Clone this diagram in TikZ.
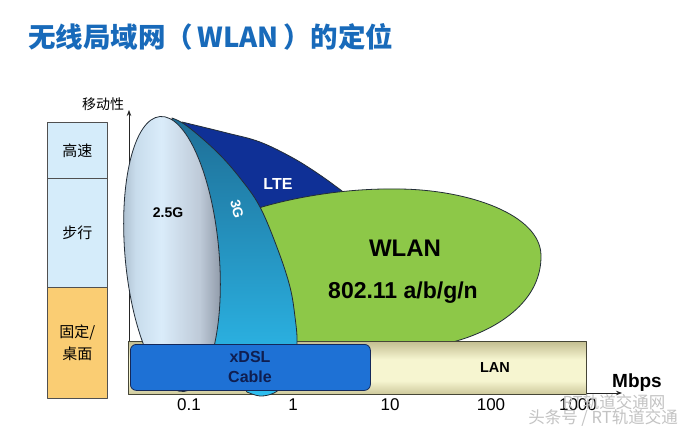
\documentclass[tikz,border=0pt]{standalone}
\usepackage{fontspec}
\setmainfont{Liberation Sans}
\newfontfamily\cjk{Noto Sans CJK SC}
\usetikzlibrary{arrows.meta,shapes.geometric}
\definecolor{titleblue}{RGB}{24,106,186}
\definecolor{lblue}{RGB}{213,236,250}
\definecolor{lorange}{RGB}{250,205,115}
\definecolor{boxline}{RGB}{80,80,80}
\definecolor{shapeline}{RGB}{35,45,55}
\definecolor{ltecol}{RGB}{15,48,150}
\definecolor{wlancol}{RGB}{141,200,72}
\definecolor{tgA}{RGB}{30,110,150}
\definecolor{tgB}{RGB}{45,190,240}
\definecolor{lanA}{RGB}{195,190,145}
\definecolor{lanB}{RGB}{246,245,208}
\definecolor{lanC}{RGB}{205,200,155}
\definecolor{barline}{RGB}{70,70,55}
\definecolor{dslblue}{RGB}{30,113,213}
\definecolor{dslline}{RGB}{20,40,90}
\definecolor{dsltext}{RGB}{15,30,80}
\definecolor{wmark}{RGB}{195,195,195}
\definecolor{sa}{RGB}{165,182,198}
\definecolor{sb}{RGB}{200,220,236}
\definecolor{sc}{RGB}{218,236,250}
\definecolor{sd}{RGB}{190,202,216}
\definecolor{se}{RGB}{135,145,160}
\pgfdeclarehorizontalshading{shtwofive}{100bp}{color(0bp)=(sa); color(25bp)=(sa); color(33bp)=(sb); color(45bp)=(sc); color(63bp)=(sd); color(75bp)=(se); color(100bp)=(se)}
\pgfdeclareverticalshading{shlan}{100bp}{color(0bp)=(lanC); color(25bp)=(lanC); color(38bp)=(lanB); color(58bp)=(lanB); color(75bp)=(lanA); color(100bp)=(lanA)}
\tikzset{
  mbox/.style={draw=boxline, line width=0.6, minimum width=60, minimum height=#1, anchor=north west, inner sep=0, font=\cjk\fontsize{15}{22}\selectfont, align=center},
  axisline/.style={draw=black!85, line width=0.8, -{Stealth[length=6,width=4.5]}},
  tick/.style={font=\fontsize{17}{19}\selectfont, inner sep=0},
  bold/.style={font=\bfseries\fontsize{#1}{#1}\selectfont, inner sep=0},
  shapeedge/.style={draw=shapeline, line width=0.8},
}
\begin{document}
\begin{tikzpicture}[x=1pt,y=-1pt,line join=round]
\useasboundingbox (0,0) rectangle (689,434);
\fill[white] (0,0) rectangle (689,434);
% title
\node[anchor=west, text=titleblue, inner sep=0, font=\cjk\bfseries\fontsize{27.5}{30}\selectfont] (title) at (28,37) {无线局域网（\,WLAN\,）的定位};
% left column
\node[mbox=56, fill=lblue] (fast) at (47,122) {高速};
\node[mbox=109, fill=lblue] (walk) at (47,178) {步行};
\node[mbox=111, fill=lorange] (fixed) at (47,287) {固定/\\桌面};
\node[font=\cjk\fontsize{14}{16}\selectfont, inner sep=0] (mob) at (103,104) {移动性};
% axes
\coordinate (o) at (129,393);
\coordinate (ytop) at (129,110);
\coordinate (xend) at (622,393);
\draw[axisline] (o) -- (ytop);
\draw[axisline] (o) -- (xend);
% LTE
\path[shapeedge, fill=ltecol] plot[smooth, tension=0.6] coordinates {(182,122) (227,133) (260,142) (293,158) (320,175) (342,191)} -- (300,232) -- (205,232) -- cycle;
% WLAN
\path[shapeedge, fill=wlancol] (250,211) -- (262,207) .. controls (300,196) and (350,188) .. (400,189) .. controls (470,190) and (540,215) .. (541,255) .. controls (542,305) and (490,335) .. (440,345) -- (300,360) -- (250,300) -- cycle;
% LAN bar
\node[draw=barline, line width=0.8, anchor=north west, minimum width=458, minimum height=53, inner sep=0, shading=shlan] (lan) at (128,341) {};
% 3G
\path[shapeedge, top color=tgA, bottom color=tgB] plot[smooth, tension=0.6] coordinates {(172,118) (187,126) (217,152) (240,178) (260,207) (278,250) (290,287) (295,317) (297,343) (293,368) (284,384) (274,393) (260,396) (247,392)} -- (215,345) -- (178,200) -- cycle;
% 2.5G
\path[shapeedge, shading=shtwofive, rotate around={5:(172,254)}] (172,254) ellipse [x radius=47, y radius=138];
% xDSL
\node[draw=dslline, fill=dslblue, line width=0.8, rounded corners=6, anchor=north west, minimum width=240, minimum height=46, inner sep=0] (dsl) at (130,344) {};
% labels
\node[bold=14] (l25) at (168,213) {2.5G};
\node[bold=14, text=white, rotate=-76] (l3g) at (237,209) {3G};
\node[bold=16, text=white] (llte) at (278,184) {LTE};
\node[bold=24] (lwlan) at (405,248) {WLAN};
\node[bold=23] (lstd) at (403,293) {802.11 a/b/g/n};
\node[bold=14.5] (llan) at (495,368) {LAN};
\node[text=dsltext, align=center, inner sep=0, font=\bfseries\fontsize{16}{19.5}\selectfont] (ldsl) at (250,367) {xDSL\\Cable};
\node[bold=19] (mbps) at (637,383) {Mbps};
% ticks
\node[tick] (t01) at (189,405) {0.1};
\node[tick] (t1) at (293,405) {1};
\node[tick] (t10) at (390,405) {10};
\node[tick] (t100) at (491,405) {100};
\node[tick] (t1000) at (578,405) {1000};
% watermark
\node[text=wmark, inner sep=0, font=\cjk\fontsize{16.5}{18}\selectfont] (wm1) at (614,402) {RT轨道交通网};
\node[text=wmark, inner sep=0, font=\cjk\fontsize{16.5}{18}\selectfont] (wm2) at (603,418) {头条号 / RT轨道交通};
\end{tikzpicture}
\end{document}
